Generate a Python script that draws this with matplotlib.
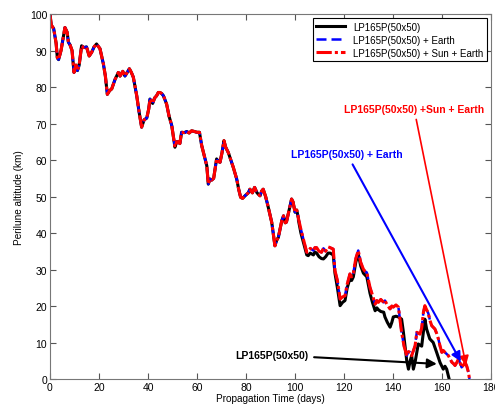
import matplotlib
matplotlib.use('Agg')
import matplotlib.pyplot as plt

# perilune altitude vs propagation time, LP165P 50x50 gravity field
days = [0, 0.5, 1.5, 2.5, 3, 3.5, 4.5, 5.5, 6.1, 7, 7.5, 8.2, 9, 9.8, 10.6, 11.2, 11.9,
        12.9, 13.8, 14.9, 16, 17, 18, 19, 20.4, 21.8, 22.6, 23.4, 24.3, 25.2, 26.5,
        27.9, 28.6, 29.7, 30.6, 31.5, 32.4, 33.2, 34, 35.4, 36.4, 37.4, 38.4, 39.5,
        40.3, 40.8, 41.9, 42.7, 43.5, 44.2, 44.9, 45.6, 46.3, 47.6, 48.6, 49.7, 51,
        51.7, 52.4, 53, 53.7, 54.8, 55.8, 56.8, 57.8, 59, 59.9, 61, 61.9, 63, 64,
        64.6, 65.3, 66, 66.8, 68, 68.7, 69.4, 70.2, 71.0, 71.7, 72.8, 73.8, 74.8,
        76.2, 77, 77.8, 78.6, 79.6, 80.9, 81.6, 82.6, 83.5, 84.5, 85.7, 86.4, 87, 88,
        89.1, 90.5, 91.8, 92.5, 93.2, 94.6, 95.3, 96, 96.5, 97.5, 98.6, 99.2, 100,
        100.7, 101.4, 102.4, 103.4, 104.8, 105.4, 106.2, 107.5, 108.1, 108.8, 109.8,
        110.8, 111.6, 112.5, 113.5, 114.3, 115.6, 116.3, 117.3, 118.4, 119.4, 120.4,
        121.3, 122.4, 123.1, 123.8, 124.8, 125.8, 126.8, 127.9, 128.6, 129.3, 130.6,
        131.6, 132.7, 133.4, 134, 135, 136.2, 136.7, 137.7, 138.8, 139.5, 140.1,
        141.2, 142.2, 143.5, 144.5, 145.6, 146.3, 147, 147.6, 149, 149.7, 151, 151.7,
        152.4, 153, 153.7, 154.4, 155.1, 155.8, 157.1, 157.8, 158.5, 159.2, 159.9,
        160.5, 161.2, 162.6, 163.3, 164, 164.7, 165.3, 166, 166.7, 167.3, 168, 168.7,
        169.4, 170.1, 170.8, 171.2]
alt_sun_earth = [100, 97, 96, 92, 88, 87.5, 90, 94, 96.3, 95, 92.3, 91.5, 90, 84, 86, 84.5, 86,
                 91.3, 90.8, 91, 88.5, 89.5, 91, 91.8, 90.5, 86.3, 83, 78, 79, 79.5, 82,
                 84, 83, 84.3, 83, 84, 85, 84, 82.7, 77.6, 73, 69, 71, 71.5,
                 74, 76.7, 75.5, 77, 77.6, 78.5, 78.5, 78.2, 77.6, 75.3, 72, 69.4, 63.5,
                 65, 65, 64.5, 67.6, 67.5, 67.8, 67.4, 68, 67.8, 67.6, 67.6, 64, 61, 58.4,
                 53.4, 54.8, 54.5, 55, 60.3, 59.6, 59.4, 62, 65.3, 63.5, 62, 60, 58,
                 54.8, 52, 49.8, 49.5, 50.2, 51, 52, 51, 52.5, 51, 50.2, 51.5, 52, 50,
                 47, 42.9, 36.5, 38, 38.8, 43.4, 44.7, 42.8, 43, 46, 49.3, 48.5, 45.7,
                 46.3, 44, 41, 38.4, 34.7, 34.8, 35.8, 35.2, 36, 36, 35,
                 34.7, 35.8, 35, 36.2, 36, 35.6, 29.7, 27, 21.9, 22.5, 22.8,
                 26, 28.8, 28, 29, 33, 35.2, 32, 30.1, 29.5, 29.2, 25.1,
                 23, 20.5, 21.5, 21, 21.8, 21, 21.5, 20.2, 19.2, 20, 19.7,
                 20.3, 19.7, 12.8, 9, 6.4, 7.5, 7.3, 6.4, 9.1, 12.8, 12.3, 14,
                 18.3, 20.1, 19, 18, 16, 14.6, 13.7, 12.5, 11, 9, 7.3,
                 7.8, 7.3, 6.4, 5.5, 4.6, 4.2, 3.7, 4.5, 5.5, 4.5, 3.2, 3.8,
                 4.6, 3.5, 1.8, 0]
# the Earth-only run lies on the Sun + Earth track
alt_earth = alt_sun_earth

# the no-third-body run splits off after ~100 days
n_common = 113
days_moon_tail = [101.4, 102.4, 103.4, 104.8, 105.4, 106.2, 107.5, 108.1, 108.8, 109.8,
                  110.8, 111.6, 112.5, 113.5, 114.3, 115.6, 116.3, 117.3, 118.4, 119.4,
                  120.4, 121.3, 122.4, 123.1, 123.8, 124.8, 125.8, 126.8, 127.9, 128.6,
                  129.3, 130.6, 131.6, 132.7, 133.4, 134, 135, 136.2, 136.7, 137.7,
                  138.8, 139.5, 140.1, 141.2, 142.2, 143.5, 144.2, 144.9, 145.6, 146.3,
                  147, 147.6, 148.3, 149, 150.3, 151.7, 152.4, 153, 153.7, 155, 156.4,
                  157.8, 159.2, 160.5, 161.2, 161.9, 162.9]
alt_moon_tail = [43.5, 40, 37.5, 34, 33.8, 34.5, 34, 34.8, 34.5, 33.5,
                 33, 32.9, 33.5, 34.5, 34.5, 34, 29, 25, 20.1, 21,
                 21.5, 25, 27.5, 27, 28, 32, 34.3, 31, 29, 28.5,
                 28, 23.5, 21, 18.7, 19.5, 19, 18.5, 18.3, 17, 15.5,
                 14.2, 15.5, 17, 17.2, 17, 16.4, 13, 9.1, 5, 2.7,
                 5, 6.4, 2.7, 4.6, 9.6, 9, 13, 16.4, 13.7, 11, 10,
                 7.3, 4.5, 2.7, 3.5, 2.7, 0]
days_moon = days[:n_common] + days_moon_tail
alt_moon = alt_sun_earth[:n_common] + alt_moon_tail

plt.rcParams['font.family'] = ['Liberation Sans', 'DejaVu Sans']

fig = plt.figure(figsize=(4.95, 4.06), dpi=100)
ax = fig.add_axes([0.101, 0.064, 0.891, 0.899])

ax.plot(days_moon, alt_moon, color='black', lw=2.2, label='LP165P(50x50)')
ax.plot(days, alt_earth, color='blue', lw=1.8, ls='--', dashes=(4, 2), label='LP165P(50x50) + Earth')
ax.plot(days, alt_sun_earth, color='red', lw=2.2, ls='-.', dashes=(5, 1, 1, 1),
        label='LP165P(50x50) + Sun + Earth')

ax.set_xlim(0, 180)
ax.set_ylim(0, 100)
ax.set_xticks(range(0, 181, 20))
ax.set_yticks(range(0, 101, 10))
ax.tick_params(direction='in', top=True, right=True, labelsize=7.5, length=4, pad=2,
               color='#555555')
for s in ax.spines.values():
    s.set_color('#777777')
ax.set_xlabel('Propagation Time (days)', fontsize=7.2, labelpad=1)
ax.set_ylabel('Perilune altitude (km)', fontsize=7.2, labelpad=4)

leg = ax.legend(loc='upper right', fontsize=7, fancybox=False, framealpha=1,
                edgecolor='black', handlelength=3, borderpad=0.35, labelspacing=0.3,
                borderaxespad=0.45)
leg.get_frame().set_linewidth(0.8)

ax.annotate('LP165P(50x50) +Sun + Earth', xy=(170, 3.0), xytext=(148.6, 74),
            color='red', fontsize=7.5, fontweight='bold', ha='center', va='center',
            arrowprops=dict(arrowstyle='-|>', color='red', lw=1.2, mutation_scale=14))
ax.annotate('LP165P(50x50) + Earth', xy=(168.2, 4.1), xytext=(121.2, 61.6),
            color='blue', fontsize=7.5, fontweight='bold', ha='center', va='center',
            arrowprops=dict(arrowstyle='-|>', color='blue', lw=1.5, mutation_scale=14))
ax.annotate('LP165P(50x50)', xy=(159, 4.1), xytext=(90.6, 6.6),
            color='black', fontsize=7.5, fontweight='bold', ha='center', va='center',
            arrowprops=dict(arrowstyle='-|>', color='black', lw=1.5, mutation_scale=14))

fig.savefig('out.png', dpi=100)
